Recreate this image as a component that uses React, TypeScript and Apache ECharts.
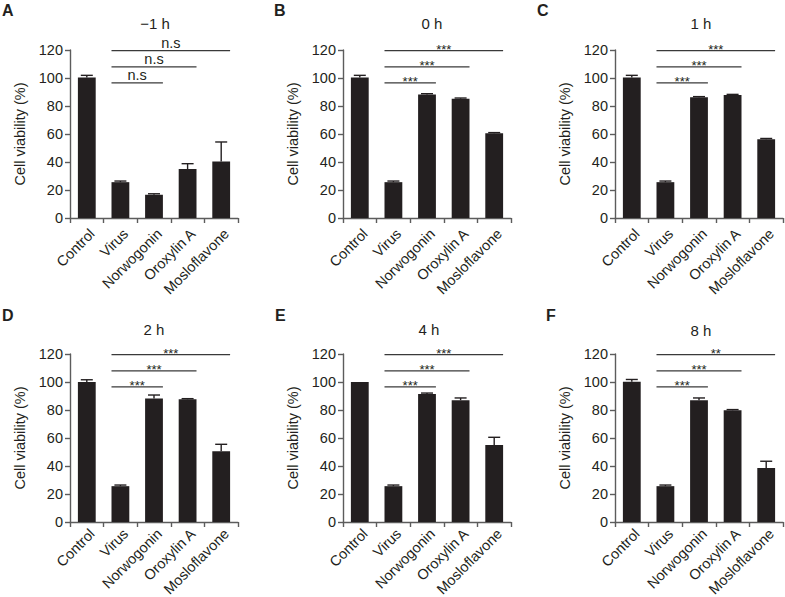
import React, { useEffect, useRef } from "react";
import * as echarts from "echarts";

const categories = ["Control", "Virus", "Norwogonin", "Oroxylin A", "Mosloflavone"];
const panelLetters = ["A", "B", "C", "D", "E", "F"];
const panelTitles = ["\u22121 h", "0 h", "1 h", "2 h", "4 h", "8 h"];

const meansA = [100.3, 25.6, 16.6, 35, 40.3];
const errA = [1.6, 0.8, 0.7, 3.8, 14];
const meansB = [100.3, 25.6, 88.3, 85.2, 60.5];
const errB = [1.6, 0.8, 0.5, 0.5, 0.5];
const meansC = [100.3, 25.6, 86.2, 87.8, 56.3];
const errC = [1.6, 0.8, 0.5, 0.5, 0.5];
const meansD = [100, 25.6, 88.2, 87.6, 50.5];
const errD = [1.6, 0.8, 2.5, 0.5, 5];
const meansE = [100, 25.6, 91.5, 87, 55];
const errE = [0, 0.8, 0.6, 1.6, 5.5];
const meansF = [100.2, 25.6, 87, 79.8, 38.6];
const errF = [1.6, 0.8, 1.6, 0.5, 4.8];

const sigStart = 1;
const sigEnds = [2, 3, 4];
const sigLevels = [96.5, 108, 119.5];
const sigLabelsA = ["n.s", "n.s", "n.s"];
const sigLabelsB = ["***", "***", "***"];
const sigLabelsC = ["***", "***", "***"];
const sigLabelsD = ["***", "***", "***"];
const sigLabelsE = ["***", "***", "***"];
const sigLabelsF = ["***", "***", "**"];

const allMeans = [meansA, meansB, meansC, meansD, meansE, meansF];
const allErrs = [errA, errB, errC, errD, errE, errF];
const allSig = [sigLabelsA, sigLabelsB, sigLabelsC, sigLabelsD, sigLabelsE, sigLabelsF];

const INK = "#231f20";
const AXIS = "#5c5c5c";
const FONT = "Liberation Sans, Arial, sans-serif";
const BAR_FRAC = 0.53;

const gridPos = [
  { left: 70, top: 50 },
  { left: 343, top: 50 },
  { left: 615, top: 50 },
  { left: 70, top: 354 },
  { left: 343, top: 354 },
  { left: 615, top: 354 },
];
const labelMargins = [8, 8, 8, 4, 4, 4];
const letterPos = [
  [2, 10], [274, 10], [537, 10],
  [2, 315], [275, 315], [546, 315],
];
const titlePos = [
  [155, 23], [432, 23], [701, 23],
  [154, 329], [429, 329], [701, 330],
];

export default function App() {
  const ref = useRef<HTMLDivElement>(null);
  useEffect(() => {
    document.body.style.margin = "0";
    const chart = echarts.init(ref.current!, null, { renderer: "svg" });
    const grid: any[] = [];
    const xAxis: any[] = [];
    const yAxis: any[] = [];
    const series: any[] = [];
    const graphic: any[] = [];
    for (let p = 0; p < 6; p++) {
      grid.push({ ...gridPos[p], width: 168, height: 168, outerBoundsMode: "none", containLabel: false });
      xAxis.push({
        type: "category",
        gridIndex: p,
        data: categories,
        boundaryGap: true,
        axisLine: { lineStyle: { color: AXIS, width: 1.4 } },
        axisTick: { show: true, length: 5, lineStyle: { color: AXIS, width: 1.4 } },
        axisLabel: {
          rotate: 45,
          interval: 0,
          margin: labelMargins[p],
          verticalAlign: "top",
          fontSize: 14.5,
          color: INK,
          fontFamily: FONT,
        },
      });
      yAxis.push({
        type: "value",
        gridIndex: p,
        min: 0,
        max: 120,
        interval: 20,
        name: "Cell viability (%)",
        nameLocation: "middle",
        nameGap: 43,
        nameTextStyle: { fontSize: 14.5, color: INK, fontFamily: FONT },
        splitLine: { show: false },
        axisLine: { show: true, lineStyle: { color: AXIS, width: 1.4 } },
        axisTick: { show: true, length: 5, lineStyle: { color: AXIS, width: 1.4 } },
        axisLabel: { margin: 7, fontSize: 14.5, color: INK, fontFamily: FONT },
      });
      const means = allMeans[p];
      const errs = allErrs[p];
      const labels = allSig[p];
      series.push({
        type: "bar",
        xAxisIndex: p,
        yAxisIndex: p,
        data: means,
        barWidth: BAR_FRAC * 100 + "%",
        itemStyle: { color: INK },
        z: 2,
      });
      series.push({
        type: "custom",
        xAxisIndex: p,
        yAxisIndex: p,
        z: 3,
        clip: false,
        data: means.map((m, i) => [i, m, errs[i]]),
        renderItem: (params: any, api: any) => {
          const i = api.value(0);
          const v = api.value(1);
          const e = api.value(2);
          if (!e) return { type: "group", children: [] };
          const p0 = api.coord([i, v]);
          const p1 = api.coord([i, v + e]);
          const hw = 6;
          const st = { stroke: INK, lineWidth: 1.4 };
          return {
            type: "group",
            children: [
              { type: "line", shape: { x1: p0[0], y1: p0[1], x2: p1[0], y2: p1[1] }, style: st },
              { type: "line", shape: { x1: p1[0] - hw, y1: p1[1], x2: p1[0] + hw, y2: p1[1] }, style: st },
            ],
          };
        },
      });
      series.push({
        type: "custom",
        xAxisIndex: p,
        yAxisIndex: p,
        z: 4,
        clip: false,
        data: sigEnds.map((end, k) => [sigStart, end, sigLevels[k]]),
        renderItem: (params: any, api: any) => {
          const band = api.size([1, 0])[0];
          const half = (band * BAR_FRAC) / 2;
          const pS = api.coord([api.value(0), api.value(2)]);
          const pE = api.coord([api.value(1), api.value(2)]);
          const x1 = pS[0] - half;
          const x2 = pE[0] + half;
          const y = pS[1];
          const label = labels[params.dataIndex];
          const isStar = label.indexOf("*") >= 0;
          return {
            type: "group",
            children: [
              { type: "line", shape: { x1, y1: y, x2, y2: y }, style: { stroke: "#3a3a3a", lineWidth: 1.2 } },
              {
                type: "text",
                x: (x1 + x2) / 2,
                y: isStar ? y - 1 : y - 8,
                style: {
                  text: label,
                  align: "center",
                  verticalAlign: "middle",
                  fill: INK,
                  font: (isStar ? "13px " : "14.5px ") + FONT,
                },
              },
            ],
          };
        },
      });
      graphic.push({
        type: "text",
        x: letterPos[p][0],
        y: letterPos[p][1],
        style: { text: panelLetters[p], fill: INK, font: "bold 16px " + FONT, align: "left", verticalAlign: "middle" },
      });
      graphic.push({
        type: "text",
        x: titlePos[p][0],
        y: titlePos[p][1],
        style: { text: panelTitles[p], fill: INK, font: "15px " + FONT, align: "center", verticalAlign: "middle" },
      });
    }
    chart.setOption({
      animation: false,
      backgroundColor: "#ffffff",
      textStyle: { fontFamily: FONT },
      grid,
      xAxis,
      yAxis,
      series,
      graphic,
    });
    return () => chart.dispose();
  }, []);
  return <div ref={ref} style={{ position: "absolute", left: 0, top: 0, width: 785, height: 597 }} />;
}
